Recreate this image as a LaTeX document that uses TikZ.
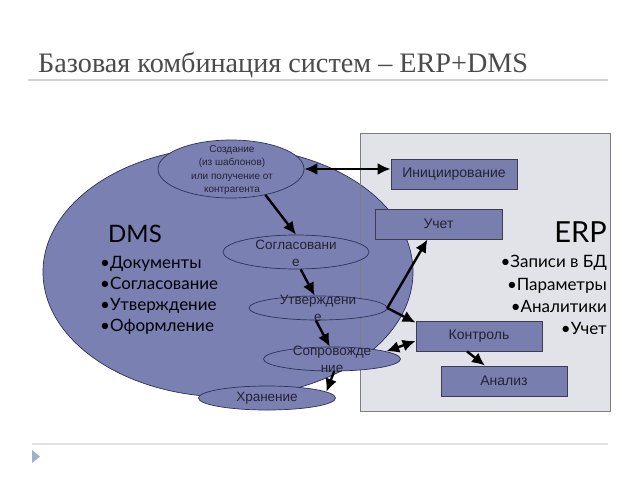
\documentclass[tikz,border=0pt]{standalone}
\usepackage{fontspec}
\setmainfont{Liberation Sans}
\newfontfamily\titlefont{Liberation Serif}
\newfontfamily\gillfont{Lato}
\usetikzlibrary{shapes.geometric,arrows.meta}
\definecolor{blobc}{RGB}{122,128,178}
\definecolor{blobline}{RGB}{45,50,90}
\definecolor{boxc}{RGB}{120,126,174}
\definecolor{boxline}{RGB}{60,62,80}
\definecolor{erpfill}{RGB}{225,227,232}
\definecolor{erpline}{RGB}{125,125,128}
\definecolor{titlec}{RGB}{75,75,75}
\definecolor{rulec}{RGB}{208,212,216}
\definecolor{tric}{RGB}{160,176,204}
\definecolor{txtc}{RGB}{35,35,50}
\tikzset{
  procbox/.style={rectangle, draw=boxline, line width=0.8pt, fill=boxc, minimum width=126pt, minimum height=30pt, inner sep=0pt, text=txtc, font=\fontsize{14}{16}\selectfont},
  stage/.style={ellipse, draw=blobline, line width=0.7pt, fill=blobc, minimum width=140pt, minimum height=24pt, inner sep=0pt},
  stagetext/.style={align=center, text=txtc, inner sep=0pt, font=\fontsize{13.5}{17}\selectfont},
  arr/.style={line width=2.4pt, -{Latex[length=13pt,width=12pt]}},
  darr/.style={line width=2.4pt, {Latex[length=13pt,width=12pt]}-{Latex[length=13pt,width=12pt]}},
  bigtxt/.style={inner sep=0pt, text=black, font=\gillfont\fontsize{17}{20}\selectfont}
}
\begin{document}
\begin{tikzpicture}[x=1pt,y=-1pt]
\useasboundingbox (0,0) rectangle (640,480);
\fill[white] (0,0) rectangle (640,480);
% title
\node[anchor=base west, inner sep=0pt, text=titlec, font=\titlefont\fontsize{28.2}{32}\selectfont] (title) at (38,72) {Базовая комбинация систем – ERP+DMS};
\draw[line width=2.5pt, rulec] (28,80) -- (608,80);
% footer
\draw[line width=1.2pt, black!12] (32,444) -- (608,444);
\fill[tric] (32,450) -- (40,456.5) -- (32,463) -- cycle;
% ERP area background
\node[rectangle, fill=erpfill, minimum width=250pt, minimum height=278pt, inner sep=0pt] (erp) at (485.5,272.5) {};
% DMS blob
\node[ellipse, fill=blobc, draw=blobline, line width=0.7pt, minimum width=370pt, minimum height=250pt, inner sep=0pt] (dms) at (228,272) {};
\draw[erpline, line width=1.3pt] (erp.north west) rectangle (erp.south east);
% boxes
\node[procbox] (init) at (454,174) {Инициирование};
\node[procbox, minimum width=127pt] (uchet) at (438.5,224) {Учет};
\node[procbox] (kontr) at (479,336) {Контроль};
\node[procbox] (analiz) at (504,381) {Анализ};
% ellipses
\node[stage, minimum width=146pt, minimum height=58pt] (sozd) at (231,169) {};
\node[stage, minimum width=146pt, minimum height=34pt] (sogl) at (296,252) {};
\node[stage, minimum width=138pt] (utv) at (318,308) {};
\node[stage, minimum width=137pt] (sopr) at (332,359) {};
\node[stage, minimum width=137pt] (hran) at (267,398) {};
% ellipse texts
\node[stagetext, font=\fontsize{10}{13.3}\selectfont] (sozd-t) at (232,170) {Создание\\(из шаблонов)\\или получение от\\контрагента};
\node[stagetext] (sogl-t) at ([yshift=-1.5pt]sogl.center) {Согласовани\\е};
\node[stagetext] (utv-t) at ([yshift=-0.5pt]utv.center) {Утверждени\\е};
\node[stagetext] (sopr-t) at (332,359) {Сопровожде\\ние};
\node[stagetext] (hran-t) at (267,398) {Хранение};
% DMS text
\node[inner sep=0pt, anchor=base west, font=\gillfont\fontsize{24}{28}\selectfont] (dmsh) at (108,242) {DMS};
\node[bigtxt, anchor=base west] (d1) at (100,268) {•Документы};
\node[bigtxt, anchor=base west] (d2) at (100,289) {•Согласование};
\node[bigtxt, anchor=base west] (d3) at (100,310) {•Утверждение};
\node[bigtxt, anchor=base west] (d4) at (100,331) {•Оформление};
% ERP text
\node[inner sep=0pt, anchor=base east, font=\gillfont\fontsize{29}{32}\selectfont] (erph) at (607,242) {ERP};
\node[bigtxt, anchor=base east] (e1) at (607,267) {•Записи в БД};
\node[bigtxt, anchor=base east] (e2) at (607,290) {•Параметры};
\node[bigtxt, anchor=base east] (e3) at (607,312) {•Аналитики};
\node[bigtxt, anchor=base east] (e4) at (607,334) {•Учет};
% connectors
\draw[darr] (sozd.east) -- (sozd.east -| init.west);
\draw[arr] (sozd.-37) -- (sogl.north);
\draw[arr] (sogl.-75) -- (utv.105);
\draw[arr] (utv.-100) -- (sopr.100);
\draw[arr] (sopr.-80) -- (hran.6);
\draw[arr] (utv.east) -- ([xshift=-11pt]uchet.south);
\draw[arr] (utv.east) -- ([yshift=-2pt]kontr.north west);
\draw[darr] (sopr.8) -- ([yshift=-5pt]kontr.west);
\draw[arr] ([xshift=-12pt]kontr.south) -- ([xshift=-19pt]analiz.north);
\end{tikzpicture}
\end{document}
